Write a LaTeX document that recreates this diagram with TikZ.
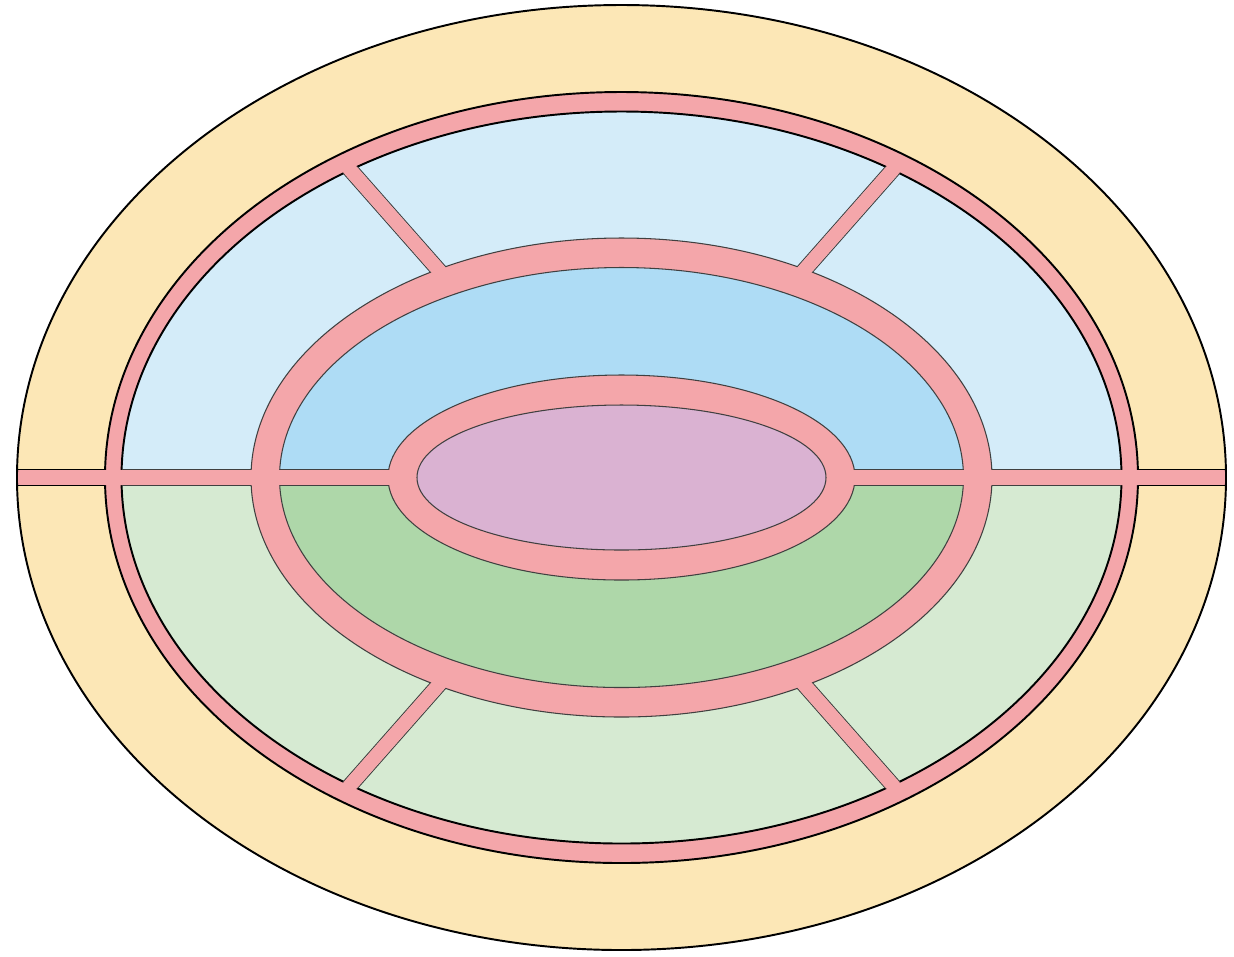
\documentclass[tikz,border=0pt]{standalone}
\usepackage{tikz}
\usepackage{xcolor}
\definecolor{sand}{RGB}{252,231,182}
\definecolor{rose}{RGB}{244,166,170}
\definecolor{skylight}{RGB}{212,236,249}
\definecolor{sky}{RGB}{174,220,245}
\definecolor{mintlight}{RGB}{214,234,210}
\definecolor{mint}{RGB}{174,215,169}
\definecolor{mauve}{RGB}{218,178,210}

\begin{document}
\begin{tikzpicture}[x=0.01cm,y=0.01cm,
    heavy/.style={draw=black,line width=0.55pt},
    fine/.style={draw=black!75,line width=0.3pt}]
  \useasboundingbox (-621.5,-478.5) rectangle (612.5,477.5);

  % Outer band
  \fill[sand] (0,0) ellipse [x radius=604.5,y radius=472.5];
  \filldraw[fill=rose,heavy] (0,0) ellipse [x radius=516.5,y radius=385.5];

  % Outer cells
  \fill[skylight] (500,0) arc [start angle=0,end angle=180,x radius=500,y radius=366] -- cycle;
  \fill[mintlight] (500,0) arc [start angle=0,end angle=-180,x radius=500,y radius=366] -- cycle;
  \draw[heavy] (0,0) ellipse [x radius=500,y radius=366];

  % Spoke edges
  \begin{scope}
    \clip (0,0) ellipse [x radius=500,y radius=366];
    \foreach \a in {48.6,131.4,-48.6,-131.4}
      \draw[fine,rotate=\a] (0,7.5) -- (600,7.5) (0,-7.5) -- (600,-7.5);
  \end{scope}

  % Middle ring
  \filldraw[fill=rose,fine] (0,0) ellipse [x radius=370.5,y radius=239.5];
  \fill[sky] (342,0) arc [start angle=0,end angle=180,x radius=342,y radius=210] -- cycle;
  \fill[mint] (342,0) arc [start angle=0,end angle=-180,x radius=342,y radius=210] -- cycle;
  \draw[fine] (0,0) ellipse [x radius=342,y radius=210];

  % Inner ring and core
  \filldraw[fill=rose,fine] (0,0) ellipse [x radius=233.5,y radius=102.5];
  \filldraw[fill=mauve,fine] (0,0) ellipse [x radius=204.5,y radius=72.5];

  % Spokes and bar
  \foreach \a in {48.6,131.4,-48.6,-131.4}
    \fill[rose,rotate=\a] (262,-7) rectangle (419.5,7);
  \fill[rose] (-604.5,-7.5) rectangle (-214,7.5) (214,-7.5) rectangle (604.5,7.5);
  \foreach \s in {1,-1}
    \foreach \y in {8,-8} {
      \draw[heavy] (\s*604.4,\y) -- (\s*516.4,\y);
      \draw[fine] (\s*499.9,\y) -- (\s*370.3,\y) (\s*341.7,\y) -- (\s*232.8,\y);
    }

  \draw[heavy] (0,0) ellipse [x radius=604.5,y radius=472.5];
\end{tikzpicture}
\end{document}
